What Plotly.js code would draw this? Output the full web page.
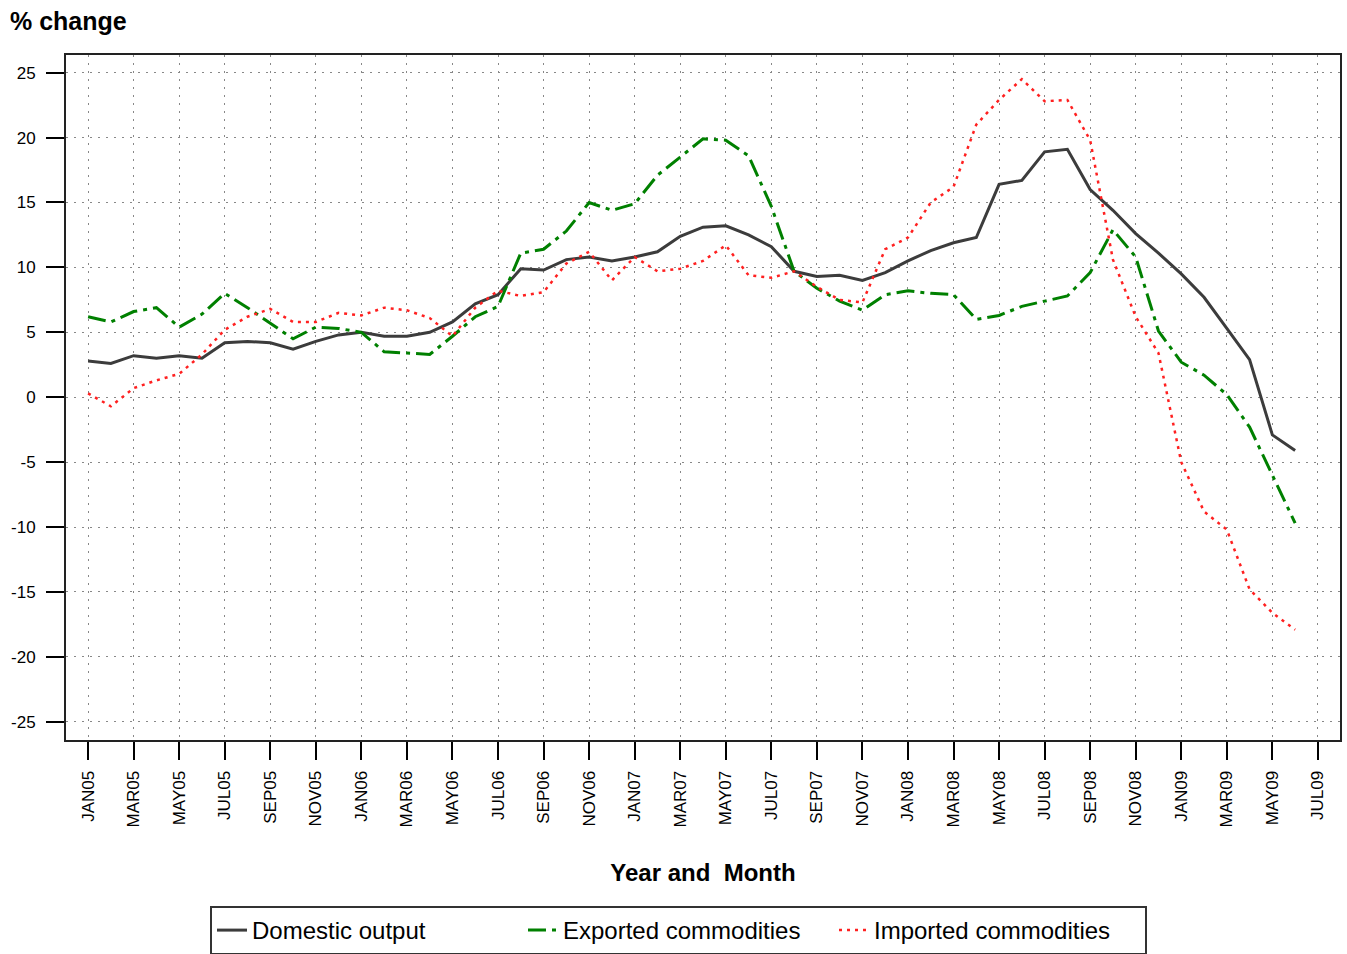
<!DOCTYPE html>
<html>
<head>
<meta charset="utf-8">
<script src="https://cdn.plot.ly/plotly-3.0.1.min.js"></script>
<style>html,body{margin:0;padding:0;background:#fff;}#chart{width:1347px;height:954px;}</style>
</head>
<body>
<div id="chart"></div>
<script>
const months = ["JAN05","FEB05","MAR05","APR05","MAY05","JUN05","JUL05","AUG05","SEP05","OCT05","NOV05","DEC05",
"JAN06","FEB06","MAR06","APR06","MAY06","JUN06","JUL06","AUG06","SEP06","OCT06","NOV06","DEC06",
"JAN07","FEB07","MAR07","APR07","MAY07","JUN07","JUL07","AUG07","SEP07","OCT07","NOV07","DEC07",
"JAN08","FEB08","MAR08","APR08","MAY08","JUN08","JUL08","AUG08","SEP08","OCT08","NOV08","DEC08",
"JAN09","FEB09","MAR09","APR09","MAY09","JUN09","JUL09"];
const tickLabels = ["JAN05","MAR05","MAY05","JUL05","SEP05","NOV05","JAN06","MAR06","MAY06","JUL06","SEP06","NOV06",
"JAN07","MAR07","MAY07","JUL07","SEP07","NOV07","JAN08","MAR08","MAY08","JUL08","SEP08","NOV08","JAN09","MAR09","MAY09","JUL09"];
const domestic = [2.8,2.6,3.2,3.0,3.2,3.0,4.2,4.3,4.2,3.7,4.3,4.8,5.0,4.7,4.7,5.0,5.8,7.2,7.9,9.9,9.8,10.6,10.8,10.5,10.8,11.2,12.4,13.1,13.2,12.5,11.6,9.7,9.3,9.4,9.0,9.6,10.5,11.3,11.9,12.3,16.4,16.7,18.9,19.1,16.0,14.4,12.6,11.1,9.5,7.7,5.3,2.9,-2.9,-4.1];
const exported = [6.2,5.8,6.6,6.9,5.4,6.4,8.0,6.9,5.7,4.5,5.4,5.3,5.0,3.5,3.4,3.3,4.7,6.2,7.0,11.1,11.4,12.8,15.0,14.4,14.9,17.1,18.5,19.9,19.8,18.6,14.7,9.7,8.4,7.4,6.7,7.9,8.2,8.0,7.9,6.0,6.3,7.0,7.4,7.8,9.6,12.9,10.8,5.1,2.7,1.7,0.2,-2.3,-6.0,-9.7];
const imported = [0.3,-0.7,0.7,1.3,1.8,3.3,5.2,6.2,6.8,5.8,5.8,6.5,6.3,6.9,6.7,6.1,4.7,6.9,8.2,7.8,8.1,10.3,11.2,9.0,10.8,9.7,9.9,10.5,11.7,9.4,9.2,9.7,8.5,7.5,7.3,11.4,12.3,15.0,16.2,21.0,22.9,24.5,22.8,22.9,19.8,10.6,6.2,3.4,-5.0,-8.8,-10.2,-14.8,-16.6,-17.9];
const yTicks = [-25,-20,-15,-10,-5,0,5,10,15,20,25];
const yTickText = ["-25","-20","-15","-10","-5","0","5","10","15","20","25"];

const xs = months.slice(0, domestic.length);
const traces = [
  {x: xs, y: domestic, type:'scatter', mode:'lines', name:'Domestic output',
   line:{color:'#3c3c3c', width:3}},
  {x: xs, y: exported, type:'scatter', mode:'lines', name:'Exported commodities',
   line:{color:'#008000', width:3, dash:'18px,6px,4px,6px'}},
  {x: xs, y: imported, type:'scatter', mode:'lines', name:'Imported commodities',
   line:{color:'#ff2020', width:2.5, dash:'3px,5px'}}
];
const font = 'Liberation Sans, Arial, sans-serif';
const layout = {
  width:1347, height:954,
  margin:{l:66, r:7, t:55, b:214, autoexpand:false},
  paper_bgcolor:'#fff', plot_bgcolor:'#fff',
  showlegend:true,
  font:{family:font, color:'#000'},
  title:{text:'% change', x:10/1347, xanchor:'left', xref:'container', y:1-21/954, yanchor:'middle', yref:'container',
         font:{family:font, size:25, weight:'bold', color:'#000'}},
  xaxis:{type:'category', categoryarray:months, range:[-0.97, 54.97], automargin:false,
    tickmode:'array', tickvals:tickLabels, ticktext:tickLabels, tickangle:-90,
    tickfont:{family:font, size:17, color:'#000'}, ticklabelstandoff:4,
    ticks:'outside', ticklen:18, tickwidth:2, tickcolor:'#000',
    showgrid:true, gridcolor:'#888', griddash:'2px,6px', gridwidth:1,
    showline:true, linecolor:'#222', linewidth:2, mirror:true, zeroline:false,
    title:{text:'Year and  Month', font:{family:font, size:24, weight:'bold', color:'#000'}, standoff:38}},
  yaxis:{range:[-26.4, 26.36], tickmode:'array', tickvals:yTicks, ticktext:yTickText, automargin:false,
    tickfont:{family:font, size:17, color:'#000'}, ticklabelstandoff:7,
    ticks:'outside', ticklen:18, tickwidth:2, tickcolor:'#000',
    showgrid:true, gridcolor:'#888', griddash:'2px,6px', gridwidth:1,
    showline:true, linecolor:'#222', linewidth:2, mirror:true, zeroline:false},
  legend:{orientation:'h', x:(210-66)/1274, xanchor:'left', y:-(906-740)/685, yanchor:'top',
    bgcolor:'#fff', bordercolor:'#333', borderwidth:2,
    entrywidth:266, entrywidthmode:'pixels',
    font:{family:font, size:24, color:'#000'}}
};
Plotly.newPlot('chart', traces, layout, {staticPlot:true, displayModeBar:false});
</script>
</body>
</html>
